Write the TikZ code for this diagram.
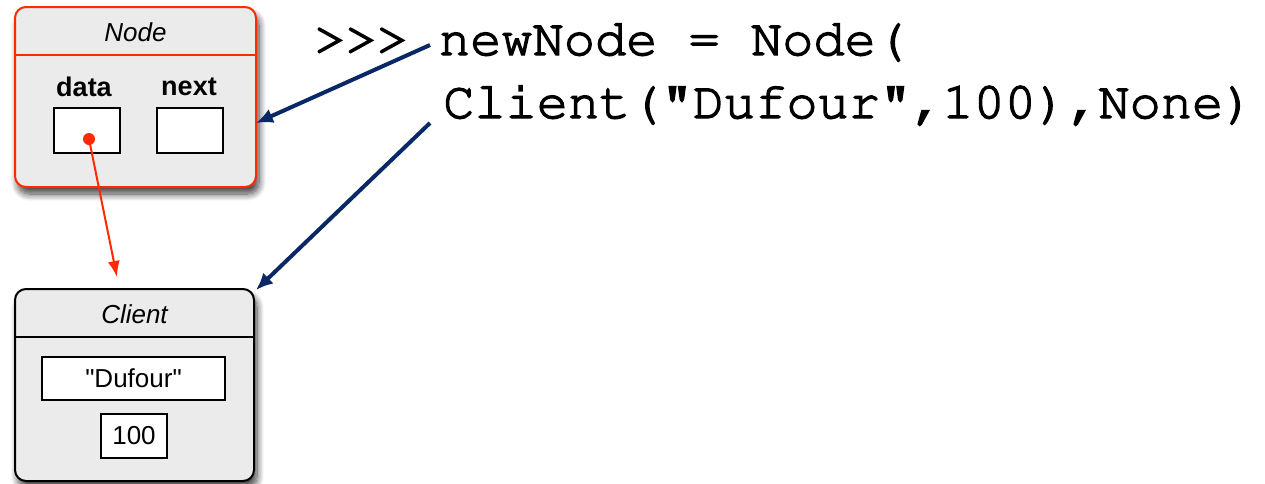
\documentclass[tikz,border=0pt]{standalone}
\usepackage[T1]{fontenc}
\usepackage{fontspec}
\setmainfont{Liberation Sans}
\usetikzlibrary{arrows.meta,shadows.blur}
% Courier for the Python statement, stroked a little to thicken its outlines
\newcommand{\pycode}{\fontencoding{T1}\fontfamily{pcr}\selectfont}
\newcommand{\heavytext}[1]{\special{pdf:literal direct 2 Tr 1.4 w}#1\special{pdf:literal direct 0 Tr}}
\definecolor{objred}{HTML}{FF2A00}
\definecolor{objfill}{HTML}{EBEBEB}
\definecolor{refblue}{HTML}{0A2866}
\tikzset{
  objbox/.style={draw, line width=2pt, rounded corners=11pt, fill=objfill,
    blur shadow={shadow xshift=3pt, shadow yshift=-7pt, shadow blur steps=10,
      shadow blur radius=7pt, shadow opacity=75}},
  title/.style={font=\fontsize{26}{30}\selectfont\itshape, inner sep=0pt},
  field/.style={font=\fontsize{27}{30}\selectfont\bfseries, inner sep=0pt},
  slot/.style={draw, line width=1.6pt, fill=white, inner sep=0pt},
  slottext/.style={slot, font=\fontsize{26}{30}\selectfont},
  code/.style={font=\pycode\fontsize{52}{60}\selectfont, anchor=base west, inner sep=0pt},
  refarrow/.style={draw=refblue, line width=4pt, -{Latex[length=17pt,width=15pt]}},
  ptrarrow/.style={draw=objred, line width=2pt, -{Latex[length=16pt,width=12pt]}}
}
\begin{document}
\begin{tikzpicture}[x=1pt,y=-1pt]
\useasboundingbox (0,0) rectangle (1265,483);

% Node object
\node[objbox, draw=objred, minimum width=241pt, minimum height=180pt] (nodebox) at (135.5,97) {};
\draw[objred, line width=2pt] (15,55) -- (256,55);
\node[title] (nodetitle) at (135.5,32) {Node};
\node[field] (datalbl) at (84,87) {data};
\node[field] (nextlbl) at (189,87) {next};
\node[slot, minimum width=66pt, minimum height=45pt] (dataslot) at (87,130.5) {};
\node[slot, minimum width=66pt, minimum height=45pt] (nextslot) at (190,130.5) {};

% Client object
\node[objbox, draw=black, minimum width=239pt, minimum height=192pt] (clientbox) at (134.5,385) {};
\draw[black, line width=2pt] (15,337) -- (254,337);
\node[title] (clienttitle) at (134.5,314) {Client};
\node[slottext, minimum width=183pt, minimum height=43pt] (nameslot) at (133.5,378.5) {\textquotedbl Dufour\textquotedbl};
\node[slottext, minimum width=66pt, minimum height=44pt] (valslot) at (134,436) {100};

% data reference
\fill[objred] (89,139) circle (6pt) coordinate (datadot);
\coordinate (datatip) at (117,277);
\draw[ptrarrow] (datadot) -- (datatip);

% Python statement
\node[code] (line1) at (314,55) {\heavytext{>{}>{}> newNode = Node(}};
\node[code] (line2) at (443,118) {\heavytext{Client("Dufour",100),None)}};

% references from the statement to the objects
\coordinate (src1) at (430,45);
\coordinate (dst1) at (256,123);
\coordinate (src2) at (430,123);
\coordinate (dst2) at (256,290);
\draw[refarrow] (src1) -- (dst1);
\draw[refarrow] (src2) -- (dst2);
\end{tikzpicture}
\end{document}
